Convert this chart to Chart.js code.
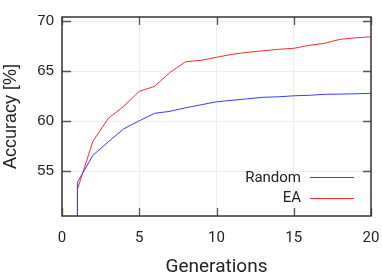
<!DOCTYPE html>
<html><head><meta charset="utf-8">
<script src="https://cdn.jsdelivr.net/npm/chart.js@4/dist/chart.umd.min.js"></script>
<style>html,body{margin:0;padding:0;background:#fff}#wrap{width:382px;height:276px}</style>
</head><body><div id="wrap"><canvas id="c" width="382" height="276"></canvas></div>
<script>
const generations = [1,1,2,3,4,5,6,7,8,9,10,11,12,13,14,15,16,17,18,19,20];
const randomAcc = [30,53.9,56.6,57.95,59.25,60.05,60.8,61.0,61.35,61.65,61.95,62.1,62.25,62.4,62.45,62.55,62.6,62.7,62.72,62.75,62.8];
const eaAcc = [30,53.2,58.0,60.3,61.5,63.0,63.5,64.9,65.95,66.1,66.4,66.7,66.9,67.05,67.2,67.3,67.6,67.8,68.2,68.35,68.45];
const xTicks = [0,5,10,15,20];
const yTicks = [55,60,65,70];
const seriesNames = ['Random','EA'];

const toXY = (ys) => ys.map((y,i)=>({x:generations[i], y}));

const frame = {
  id:'frame',
  afterDraw(chart){
    const {ctx, chartArea:a, scales:{x,y}} = chart;
    ctx.save();
    ctx.strokeStyle = '#555'; ctx.lineWidth = 1.3;
    ctx.beginPath();
    yTicks.forEach(v=>{const p=Math.round(y.getPixelForValue(v))+0.5;
      ctx.moveTo(a.left,p);ctx.lineTo(a.left+9,p);
      ctx.moveTo(a.right,p);ctx.lineTo(a.right-8,p);});
    xTicks.forEach(v=>{const p=Math.round(x.getPixelForValue(v))+0.5;
      ctx.moveTo(p,a.bottom);ctx.lineTo(p,a.bottom-8);
      ctx.moveTo(p,a.top);ctx.lineTo(p,a.top+8);});
    ctx.stroke();
    ctx.strokeStyle = '#333'; ctx.lineWidth = 1.5;
    ctx.strokeRect(a.left, a.top, a.right-a.left, a.bottom-a.top);
    // legend
    ctx.font = '15px Roboto';
    ctx.textAlign = 'right'; ctx.textBaseline = 'middle'; ctx.fillStyle = '#222';
    chart.data.datasets.forEach((ds,i)=>{
      const yy = 177 + i*20.5;
      ctx.fillText(ds.label, 301, yy+1);
      ctx.strokeStyle = ds.borderColor; ctx.lineWidth = 1;
      ctx.beginPath(); ctx.moveTo(310, Math.round(yy)+0.5); ctx.lineTo(354, Math.round(yy)+0.5); ctx.stroke();
    });
    ctx.restore();
  }
};

new Chart(document.getElementById('c'), {
  type:'line',
  data:{datasets:[
    {label:seriesNames[0], data:toXY(randomAcc), borderColor:'#3a3aff', borderWidth:1, pointRadius:0, tension:0, fill:false},
    {label:seriesNames[1], data:toXY(eaAcc), borderColor:'#ff2a2a', borderWidth:1, pointRadius:0, tension:0, fill:false}
  ]},
  options:{
    responsive:false, animation:false, devicePixelRatio:1,
    layout:{padding:{top:1,right:0,left:0,bottom:0}},
    plugins:{legend:{display:false}, tooltip:{enabled:false}},
    scales:{
      x:{type:'linear', min:0, max:20,
        afterBuildTicks:(s)=>{s.ticks = xTicks.map(v=>({value:v}));},
        afterFit:(s)=>{s.height = 60; s.paddingRight = 11;},
        ticks:{font:{family:'Roboto', size:15}, color:'#222', padding:13, maxRotation:0},
        grid:{color:'#eeeeee', drawTicks:false, lineWidth:1},
        border:{display:false},
        title:{display:true, text:'Generations', font:{family:'Roboto', size:19, lineHeight:1}, color:'#222', padding:{top:0,bottom:-1}}
      },
      y:{type:'linear', min:50.53, max:70.43,
        afterBuildTicks:(s)=>{s.ticks = yTicks.map(v=>({value:v}));},
        afterFit:(s)=>{s.width = 62;},
        ticks:{font:{family:'Liberation Sans', size:15}, color:'#222', padding:8},
        grid:{color:'#eeeeee', drawTicks:false, lineWidth:1},
        border:{display:false},
        title:{display:true, text:'Accuracy [%]', font:{family:'Liberation Sans', size:18, lineHeight:1}, color:'#222', padding:{top:2,bottom:0}}
      }
    }
  },
  plugins:[frame]
});
</script></body></html>
